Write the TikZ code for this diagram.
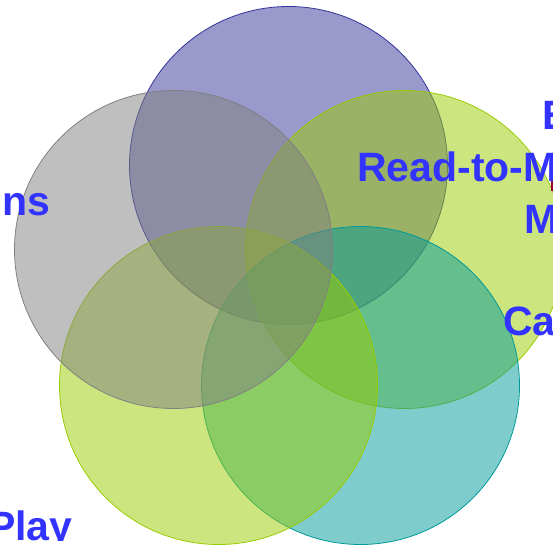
\documentclass[tikz,border=0pt]{standalone}
\usepackage{fontspec}
\setmainfont{Liberation Sans}
\begin{document}
\begin{tikzpicture}[x=1pt,y=-1pt,
  venn/.style={circle, minimum size=318pt, inner sep=0pt, line width=0.8pt, fill opacity=0.5, draw opacity=1},
  lbl/.style={inner sep=0pt, text=labelblue, font=\fontsize{41}{41}\selectfont\bfseries}]
\definecolor{vblue}{HTML}{333399}
\definecolor{vgray}{HTML}{808080}
\definecolor{vgreen}{HTML}{99CC00}
\definecolor{vteal}{HTML}{009999}
\definecolor{labelblue}{HTML}{3333FF}
\definecolor{markred}{HTML}{99002E}
\useasboundingbox (0,0) rectangle (553,545);
\begin{scope}
\clip (0,0) rectangle (553,545);
% five overlapping circles on a pentagon
\node[venn, draw=vblue,  fill=vblue]  (c1) at (288.5,165.5) {};
\node[venn, draw=vgreen, fill=vgreen] (c2) at (404.5,249.5) {};
\node[venn, draw=vteal,  fill=vteal]  (c3) at (360.5,385.5) {};
\node[venn, draw=vgreen, fill=vgreen] (c4) at (218.5,385.5) {};
\node[venn, draw=vgray,  fill=vgray]  (c5) at (173.5,249.5) {};
% small red stroke at the right edge
\draw[markred, line width=2pt] (551.8,173) coordinate (m1) -- (551.8,191) coordinate (m2);
% labels
\node[lbl, anchor=base west] (t1) at (542,130) {E};
\node[lbl, anchor=base west] (t2) at (357,182) {Read-to-M};
\node[lbl, anchor=base west] (t3) at (524,233) {M};
\node[lbl, anchor=base west] (t4) at (503,335) {Ca};
\node[lbl, anchor=base east] (t5) at (50.5,215) {ns};
\begin{scope}
\clip (-20,480) rectangle (200,540.5);
\node[lbl, anchor=base west] (t6) at (-12,540.5) {Play};
\end{scope}
\end{scope}
\end{tikzpicture}
\end{document}
